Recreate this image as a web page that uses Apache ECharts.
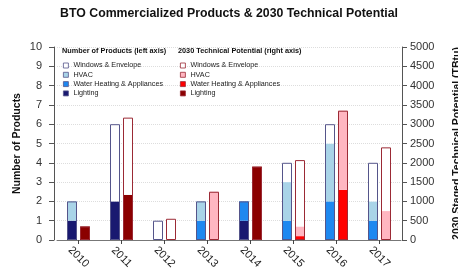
<!DOCTYPE html>
<html>
<head>
<meta charset="utf-8">
<script src="https://cdn.jsdelivr.net/npm/echarts@6/dist/echarts.min.js"></script>
<style>
  html, body { margin: 0; padding: 0; background: #fff; }
  #chart { width: 458px; height: 271px; }
</style>
</head>
<body>
<div id="chart"></div>
<script>
  // categories
  var years = ['2010', '2011', '2012', '2013', '2014', '2015', '2016', '2017']

  // number of products (left axis)
  var prodLighting = [1, 2, 0, 0, 1, 0, 0, 0]
  var prodWater    = [0, 0, 0, 1, 1, 1, 2, 1]
  var prodHvac     = [1, 0, 0, 1, 0, 2, 3, 1]
  var prodWindows  = [0, 4, 1, 0, 0, 1, 1, 2]

  // 2030 technical potential, TBtu (right axis)
  var tpLighting = [350, 1170, 0, 0, 1900, 0, 0, 0]
  var tpWater    = [0, 0, 0, 0, 0, 100, 1300, 0]
  var tpHvac     = [0, 0, 0, 1250, 0, 250, 2050, 750]
  var tpWindows  = [0, 2000, 550, 0, 0, 1720, 0, 1650]

  var leftTicks = [0, 1, 2, 3, 4, 5, 6, 7, 8, 9, 10]
  var rightTicks = [0, 500, 1000, 1500, 2000, 2500, 3000, 3500, 4000, 4500, 5000]

  var blueBorder = '#55558a'
  var redBorder = '#9b2a35'

  // zeros are left out so no empty segment gets drawn
  function vals (arr) {
    return arr.map(function (v) { return v ? v : '-' })
  }
  function totals (lists) {
    return lists[0].map(function (_, i) {
      return lists.reduce(function (s, a) { return s + a[i] }, 0)
    })
  }

  function seg (name, stack, axis, data, color) {
    return {
      name: name,
      type: 'bar',
      stack: stack,
      yAxisIndex: axis,
      barWidth: 10,
      barGap: '30%',
      itemStyle: { color: color },
      data: vals(data)
    }
  }

  // one outline per whole bar, drawn on a hidden twin x axis
  function outline (axis, data, border) {
    return {
      type: 'bar',
      xAxisIndex: 1,
      yAxisIndex: axis,
      barWidth: 10,
      barGap: '30%',
      silent: true,
      z: 5,
      itemStyle: { color: 'rgba(0,0,0,0)', borderColor: border, borderWidth: 1 },
      data: data
    }
  }

  var chart = echarts.init(document.getElementById('chart'))
  var stripName = function (name) { return name.split('|')[1] }

  chart.setOption({
    animation: false,
    textStyle: { fontFamily: '"Liberation Sans", Arial, sans-serif' },
    title: [
      {
        text: 'BTO Commercialized Products & 2030 Technical Potential',
        left: 'center', top: 8, padding: 0,
        textStyle: { fontSize: 12.3, fontWeight: 'bold', color: '#111' }
      },
      {
        text: 'Number of Products (left axis)',
        left: 62, top: 47, padding: 0,
        textStyle: { fontSize: 7.3, fontWeight: 'bold', color: '#111' }
      },
      {
        text: '2030 Technical Potential (right axis)',
        left: 178, top: 47, padding: 0,
        textStyle: { fontSize: 7.3, fontWeight: 'bold', color: '#111' }
      }
    ],
    legend: [
      {
        orient: 'vertical', left: 63, top: 62, padding: 0,
        itemWidth: 5, itemHeight: 5, itemGap: 2.3, icon: 'rect',
        formatter: stripName,
        itemStyle: { borderColor: blueBorder, borderWidth: 0.8 },
        textStyle: { fontSize: 7.2, color: '#222', lineHeight: 6 },
        data: ['L|Windows & Envelope', 'L|HVAC', 'L|Water Heating & Appliances', 'L|Lighting']
      },
      {
        orient: 'vertical', left: 180, top: 62, padding: 0,
        itemWidth: 5, itemHeight: 5, itemGap: 2.3, icon: 'rect',
        formatter: stripName,
        itemStyle: { borderColor: redBorder, borderWidth: 0.8 },
        textStyle: { fontSize: 7.2, color: '#222', lineHeight: 6 },
        data: ['R|Windows & Envelope', 'R|HVAC', 'R|Water Heating & Appliances', 'R|Lighting']
      }
    ],
    grid: { left: 57, right: 57, top: 47, bottom: 31, outerBoundsMode: 'none' },
    xAxis: [
      {
        type: 'category',
        data: years,
        axisLine: { show: true, lineStyle: { color: '#777', width: 1 } },
        axisTick: { show: true, alignWithLabel: true, length: 4, lineStyle: { color: '#444' } },
        axisLabel: {
          rotate: -45, align: 'center', verticalAlign: 'middle', margin: 17,
          fontSize: 11, color: '#222'
        }
      },
      { type: 'category', data: years, show: false }
    ],
    yAxis: [
      {
        type: 'value', position: 'left', offset: 3,
        min: leftTicks[0], max: leftTicks[leftTicks.length - 1], interval: 1,
        name: 'Number of Products', nameLocation: 'middle', nameGap: 31, nameRotate: 90,
        nameMoveOverlap: false,
        nameTextStyle: { fontSize: 10.5, fontWeight: 'bold', color: '#111' },
        axisLine: { show: true, lineStyle: { color: '#555' } },
        axisTick: { show: true, length: 5, lineStyle: { color: '#555' } },
        axisLabel: { fontSize: 11, color: '#333', margin: 12 },
        splitLine: { show: true, lineStyle: { color: '#ddd', type: 'dotted', width: 1 } }
      },
      {
        type: 'value', position: 'right', offset: 1,
        min: rightTicks[0], max: rightTicks[rightTicks.length - 1], interval: 500,
        name: '2030 Staged Technical Potential (TBtu)', nameLocation: 'middle', nameGap: 50, nameRotate: 90,
        nameMoveOverlap: false,
        nameTextStyle: { fontSize: 10.5, fontWeight: 'bold', color: '#111' },
        axisLine: { show: true, lineStyle: { color: '#555' } },
        axisTick: { show: true, length: 5, lineStyle: { color: '#555' } },
        axisLabel: { fontSize: 11, color: '#333', margin: 8, formatter: function (v) { return String(v) } },
        splitLine: { show: false }
      }
    ],
    series: [
      seg('L|Lighting', 'left', 0, prodLighting, '#191970'),
      seg('L|Water Heating & Appliances', 'left', 0, prodWater, '#1e88f0'),
      seg('L|HVAC', 'left', 0, prodHvac, '#a9d4e8'),
      seg('L|Windows & Envelope', 'left', 0, prodWindows, '#ffffff'),
      seg('R|Lighting', 'right', 1, tpLighting, '#8b0000'),
      seg('R|Water Heating & Appliances', 'right', 1, tpWater, '#ff0000'),
      seg('R|HVAC', 'right', 1, tpHvac, '#ffb6c1'),
      seg('R|Windows & Envelope', 'right', 1, tpWindows, '#ffffff'),
      outline(0, totals([prodLighting, prodWater, prodHvac, prodWindows]), blueBorder),
      outline(1, totals([tpLighting, tpWater, tpHvac, tpWindows]), redBorder)
    ]
  })
</script>
</body>
</html>
